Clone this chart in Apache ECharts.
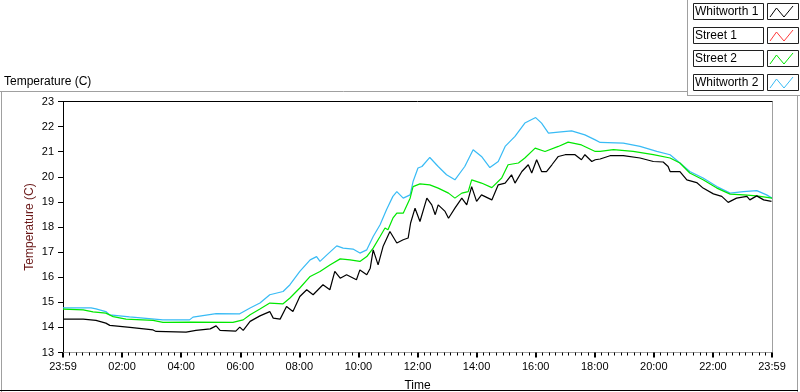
<!DOCTYPE html>
<html><head><meta charset="utf-8">
<script src="https://cdn.jsdelivr.net/npm/echarts@6/dist/echarts.min.js"></script>
<style>html,body{margin:0;padding:0;background:#fff}#c{width:800px;height:392px}</style>
</head><body><div id="c"></div>
<script>
const seriesNames = ['Whitworth 1', 'Street 1', 'Street 2', 'Whitworth 2'];
const seriesColors = ['#000000', '#ff3a3a', '#00e800', '#38bbf5'];
const yTicks = [13, 23, 1];
const xTickLabels = ['23:59','02:00','04:00','06:00','08:00','10:00','12:00','14:00','16:00','18:00','20:00','22:00','23:59'];

// minutes after the 23:59 start, and temperature (C)
const whitworth1Time = [0,41,67,87,95,136,183,189,250,270,299,311,319,351,359,366,380,400,420,427,441,454,467,481,495,508,528,542,552,563,576,596,603,617,624,630,640,650,664,678,691,701,706,715,725,729,739,749,756,762,776,783,796,810,820,830,840,850,871,884,898,911,918,932,945,952,962,972,982,993,1006,1020,1040,1053,1060,1074,1081,1091,1111,1138,1172,1199,1219,1229,1233,1253,1267,1287,1300,1321,1338,1351,1368,1389,1395,1409,1423,1439];
const whitworth1Temp = [14.33,14.33,14.28,14.17,14.08,14.00,13.90,13.84,13.81,13.88,13.94,14.06,13.88,13.85,14.01,13.88,14.24,14.46,14.63,14.37,14.33,14.83,14.63,15.23,15.50,15.30,15.70,15.50,16.23,15.96,16.10,15.90,16.29,16.10,16.36,17.09,16.49,17.22,17.82,17.36,17.49,17.56,18.16,18.75,18.22,18.29,19.15,18.88,18.49,18.88,18.62,18.35,18.75,19.15,18.88,19.61,19.02,19.28,19.08,19.68,19.75,20.08,19.75,20.21,20.48,20.15,20.68,20.21,20.21,20.48,20.81,20.88,20.88,20.68,20.88,20.61,20.68,20.71,20.84,20.84,20.75,20.61,20.59,20.41,20.21,20.21,19.88,19.77,19.55,19.32,19.22,18.98,19.15,19.22,19.08,19.24,19.08,19.02];

const street1Time = [];
const street1Temp = [];

const street2Time = [0,41,61,87,102,128,183,203,258,345,366,380,400,420,447,461,481,502,522,542,563,583,603,617,630,644,654,660,670,678,691,705,711,725,745,762,783,796,810,823,830,850,871,891,904,925,938,959,979,1006,1026,1053,1081,1091,1118,1158,1199,1233,1253,1273,1300,1328,1355,1382,1409,1440];
const street2Temp = [14.73,14.70,14.62,14.57,14.43,14.33,14.28,14.20,14.21,14.20,14.30,14.50,14.73,14.97,14.94,15.17,15.57,16.03,16.23,16.49,16.73,16.69,16.63,16.82,17.16,17.62,17.96,17.89,18.35,18.55,18.55,19.15,19.61,19.72,19.68,19.55,19.35,19.15,19.35,19.41,19.88,19.75,19.57,19.95,20.48,20.55,20.75,21.14,21.01,21.21,21.38,21.27,21.01,21.01,21.08,21.01,20.88,20.75,20.55,20.15,19.88,19.55,19.31,19.28,19.24,19.15];

const whitworth2Time = [0,57,67,87,95,135,203,257,264,311,359,380,400,420,447,461,481,502,515,522,536,556,569,589,603,617,630,644,657,670,678,691,705,711,721,729,745,762,779,796,816,833,850,867,884,898,918,938,960,972,986,1006,1033,1060,1081,1091,1138,1172,1206,1233,1253,1273,1300,1328,1355,1382,1409,1429,1440];
const whitworth2Temp = [14.78,14.78,14.74,14.63,14.50,14.42,14.30,14.30,14.41,14.55,14.54,14.77,14.97,15.30,15.43,15.70,16.23,16.69,16.82,16.63,16.89,17.25,17.16,17.12,16.96,17.09,17.62,18.09,18.69,19.22,19.41,19.15,19.28,19.81,20.35,20.41,20.77,20.41,20.08,19.88,20.41,21.08,20.81,20.37,20.61,21.21,21.61,22.14,22.36,22.14,21.74,21.78,21.83,21.67,21.47,21.37,21.34,21.21,21.01,20.88,20.55,20.21,19.95,19.61,19.35,19.41,19.45,19.28,19.15];

const FONT = '"Liberation Sans", Arial, sans-serif';
const zip = (t, v) => t.map((x, i) => [x, v[i]]);
const seriesData = [zip(whitworth1Time, whitworth1Temp), zip(street1Time, street1Temp), zip(street2Time, street2Temp), zip(whitworth2Time, whitworth2Temp)];

const chart = echarts.init(document.getElementById('c'), null, {renderer: 'canvas'});

// legend (LabVIEW style plot legend) and panel frame
const graphic = [];
const gray = '#a0a0a0';
graphic.push({type: 'line', shape: {x1: 0, y1: 91.5, x2: 687, y2: 91.5}, style: {stroke: gray, lineWidth: 1}});
graphic.push({type: 'line', shape: {x1: 1.5, y1: 91, x2: 1.5, y2: 392}, style: {stroke: gray, lineWidth: 1}});
graphic.push({type: 'line', shape: {x1: 687.5, y1: 0, x2: 687.5, y2: 96}, style: {stroke: gray, lineWidth: 1}});
graphic.push({type: 'line', shape: {x1: 687, y1: 95.5, x2: 800, y2: 95.5}, style: {stroke: gray, lineWidth: 1}});
graphic.push({type: 'line', shape: {x1: 797.5, y1: 95, x2: 797.5, y2: 392}, style: {stroke: gray, lineWidth: 1}});
graphic.push({type: 'line', shape: {x1: 0, y1: 390.5, x2: 798, y2: 390.5}, style: {stroke: '#000', lineWidth: 1}});
const rowTops = [3, 27, 50, 74];
seriesNames.forEach((name, i) => {
  const y0 = rowTops[i];
  graphic.push({type: 'rect', shape: {x: 693.5, y: y0 + 0.5, width: 70, height: 16}, style: {fill: '#fff', stroke: '#202020', lineWidth: 1}});
  graphic.push({type: 'text', x: 695, y: y0 + 9, style: {text: name, fill: '#000', font: '12px ' + FONT, textVerticalAlign: 'middle', textAlign: 'left'}});
  graphic.push({type: 'rect', shape: {x: 767.5, y: y0 + 0.5, width: 31, height: 16}, style: {fill: '#fff', stroke: '#202020', lineWidth: 1}});
  graphic.push({type: 'polyline', shape: {points: [[770, y0 + 14], [776.5, y0 + 5], [784, y0 + 14], [793, y0 + 3]]}, style: {stroke: seriesColors[i], lineWidth: 1, fill: null}});
});

const fmtX = v => {
  const idx = Math.round(v / 120);
  return xTickLabels[idx] !== undefined ? xTickLabels[idx] : '';
};

const option = {
  animation: false,
  backgroundColor: '#fff',
  title: {text: 'Temperature (C)', left: 4, top: 76, padding: 0, textStyle: {fontSize: 12, fontWeight: 'normal', fontFamily: FONT, color: '#000'}},
  grid: {left: 63, top: 101.5, width: 709, height: 251, containLabel: false, outerBoundsMode: 'none'},
  xAxis: [{
    type: 'value', min: 0, max: 1440, interval: 120,
    name: 'Time', nameLocation: 'middle', nameGap: 27, nameMoveOverlap: false,
    nameTextStyle: {fontSize: 12, fontFamily: FONT, color: '#000'},
    axisLine: {show: true, lineStyle: {color: gray, width: 1}},
    axisTick: {show: true, length: 5, lineStyle: {color: '#000', width: 2}},
    minorTick: {show: true, splitNumber: 9, length: 3, lineStyle: {color: '#000', width: 1}},
    axisLabel: {formatter: fmtX, fontSize: 11, fontFamily: FONT, color: '#000', margin: 9, showMinLabel: true, showMaxLabel: true},
    splitLine: {show: false}
  }, {
    type: 'value', min: 0, max: 1440, position: 'top',
    axisLine: {show: true, onZero: false, lineStyle: {color: '#000', width: 1}},
    axisTick: {show: false}, axisLabel: {show: false}, splitLine: {show: false}
  }],
  yAxis: [{
    type: 'value', min: yTicks[0], max: yTicks[1], interval: yTicks[2],
    name: 'Temperature (C)', nameLocation: 'middle', nameGap: 27, nameRotate: 90, nameMoveOverlap: false,
    nameTextStyle: {fontSize: 12, fontFamily: FONT, color: '#6a1818'},
    axisLine: {show: true, lineStyle: {color: '#000', width: 1}},
    axisTick: {show: true, length: 5, lineStyle: {color: '#000', width: 1}},
    axisLabel: {fontSize: 11, fontFamily: FONT, color: '#000', margin: 9},
    splitLine: {show: false}
  }, {
    type: 'value', min: yTicks[0], max: yTicks[1], position: 'right',
    axisLine: {show: true, onZero: false, lineStyle: {color: gray, width: 1}},
    axisTick: {show: false}, axisLabel: {show: false}, splitLine: {show: false}
  }],
  series: [3, 2, 1, 0].map(i => ({
    name: seriesNames[i], type: 'line', data: seriesData[i],
    showSymbol: false, symbol: 'none', lineStyle: {color: seriesColors[i], width: 1.2}, itemStyle: {color: seriesColors[i]},
    z: 3 + (3 - i)
  })),
  graphic: graphic
};
chart.setOption(option);
</script>
</body></html>
